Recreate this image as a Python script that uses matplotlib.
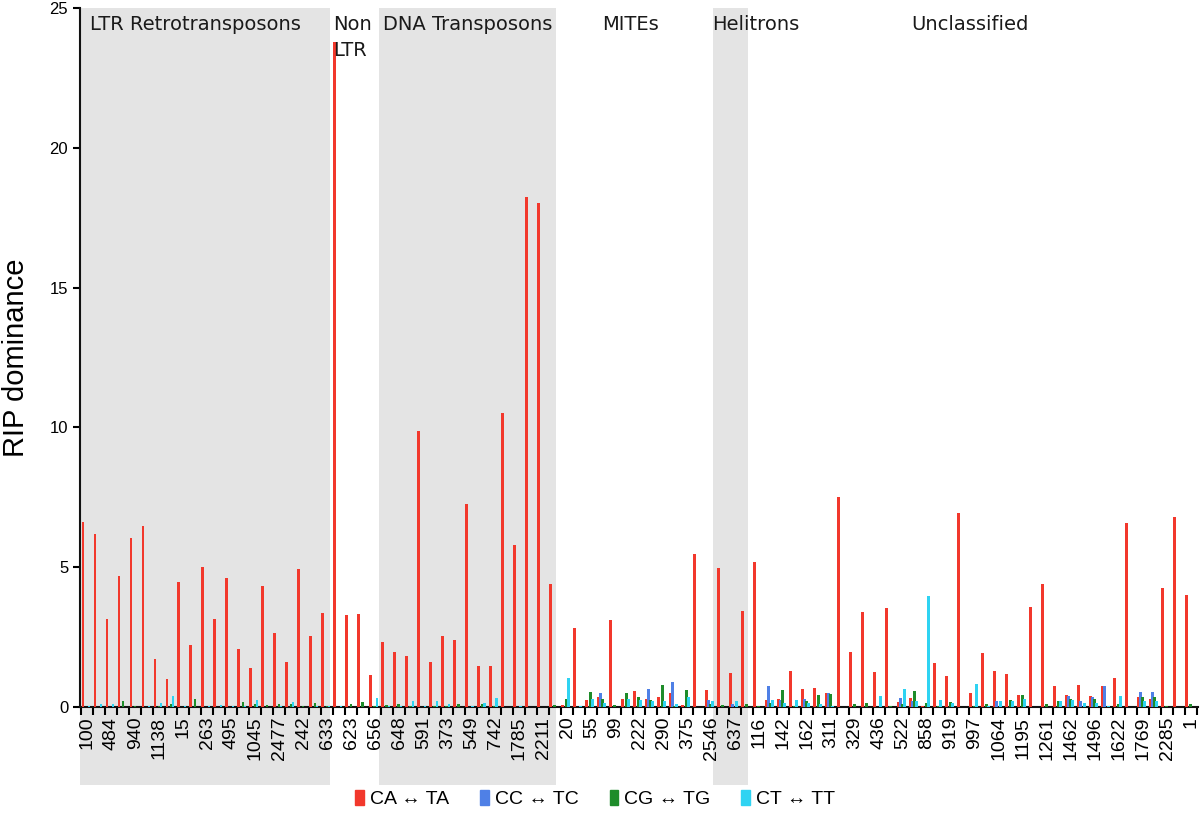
import numpy as np
import matplotlib
matplotlib.use("Agg")
import matplotlib.pyplot as plt
from matplotlib.patches import Rectangle, Patch
from matplotlib.transforms import blended_transform_factory

plt.rcParams['font.family'] = ['Liberation Sans', 'DejaVu Sans']

# tick labels shown on every other element (positions 0, 2, 4, ...)
labels = ["100", "484", "940", "1138", "15", "263", "495", "1045", "2477", "242",
          "633", "623", "656", "648", "591", "373", "549", "742", "1785", "2211",
          "20", "55", "99", "222", "290", "375", "2546", "637", "116", "142",
          "162", "311", "329", "436", "522", "858", "919", "997", "1064", "1195",
          "1261", "1462", "1496", "1622", "1769", "2285", "1"]

# CA <-> TA
ca_ta = [6.62, 6.2, 3.15, 4.68, 6.06, 6.48, 1.72, 1.0, 4.48, 2.22,
         5.0, 3.13, 4.6, 2.08, 1.38, 4.32, 2.66, 1.62, 4.93, 2.52,
         3.35, 23.78, 3.28, 3.33, 1.15, 2.33, 1.97, 1.82, 9.86, 1.62,
         2.53, 2.4, 7.27, 1.45, 1.45, 10.5, 5.78, 18.25, 18.02, 4.38,
         0.08, 2.82, 0.24, 0.37, 3.1, 0.27, 0.58, 0.27, 0.35, 0.5,
         0.08, 5.46, 0.6, 4.96, 1.22, 3.42, 5.18, 0.25, 0.3, 1.27,
         0.63, 0.68, 0.51, 7.5, 1.98, 3.4, 1.26, 3.53, 0.19, 0.33,
         0.02, 1.58, 1.1, 6.92, 0.51, 1.94, 1.3, 1.18, 0.43, 3.56,
         4.4, 0.75, 0.43, 0.79, 0.4, 0.76, 1.05, 6.57, 0.35, 0.27,
         4.25, 6.8, 4.0]
# CC <-> TC
cc_tc = [0, 0, 0, 0, 0, 0, 0, 0, 0, 0,
         0, 0, 0, 0, 0, 0, 0, 0, 0, 0,
         0, 0, 0, 0, 0, 0, 0, 0, 0, 0,
         0, 0, 0, 0, 0, 0, 0, 0, 0, 0,
         0, 0, 0, 0.5, 0, 0, 0, 0.64, 0, 0.9,
         0, 0, 0.25, 0, 0.1, 0, 0, 0.75, 0.25, 0,
         0.3, 0, 0.5, 0, 0, 0, 0, 0, 0.33, 0.2,
         0, 0, 0, 0, 0, 0, 0.23, 0, 0, 0,
         0, 0, 0.39, 0.2, 0.35, 0.76, 0, 0, 0.55, 0.55,
         0, 0, 0]
# CG <-> TG
cg_tg = [0, 0, 0, 0.2, 0.05, 0, 0.05, 0.12, 0, 0.3,
         0, 0, 0, 0.18, 0.1, 0.08, 0.12, 0.12, 0.05, 0.15,
         0.03, 0, 0.12, 0.18, 0.05, 0.08, 0.1, 0.03, 0, 0.05,
         0.03, 0.12, 0, 0.1, 0.03, 0, 0, 0, 0, 0.08,
         0.3, 0, 0.53, 0.3, 0.08, 0.5, 0.35, 0.25, 0.77, 0.05,
         0.6, 0, 0.1, 0.08, 0, 0.1, 0.05, 0.15, 0.6, 0.05,
         0.2, 0.43, 0.46, 0, 0.12, 0.15, 0, 0.05, 0.1, 0.57,
         0.15, 0.05, 0.18, 0, 0.05, 0.1, 0, 0.25, 0.43, 0,
         0.12, 0.2, 0.3, 0, 0.3, 0, 0.1, 0, 0.35, 0.35,
         0.05, 0, 0.1]
# CT <-> TT
ct_tt = [0.02, 0.1, 0.1, 0, 0, 0.03, 0.15, 0.4, 0.05, 0,
         0.05, 0.08, 0.03, 0.05, 0.25, 0, 0.05, 0.17, 0, 0.03,
         0.05, 0.03, 0, 0, 0.32, 0.03, 0.05, 0.2, 0.03, 0.2,
         0.12, 0, 0.03, 0.15, 0.32, 0, 0.05, 0, 0, 0,
         1.05, 0.03, 0.3, 0.15, 0, 0.3, 0.25, 0.2, 0.2, 0.1,
         0.37, 0, 0.22, 0, 0.2, 0, 0, 0.25, 0.15, 0.25,
         0.15, 0.1, 0.03, 0, 0, 0, 0.39, 0, 0.63, 0.2,
         3.98, 0.25, 0.15, 0, 0.81, 0.05, 0.2, 0.22, 0.3, 0,
         0, 0.2, 0.25, 0.15, 0.15, 0.05, 0.39, 0, 0.2, 0.2,
         0, 0, 0]

series = [("CA \u2194 TA", ca_ta, "#f2382c"),
          ("CC \u2194 TC", cc_tc, "#4f80e6"),
          ("CG \u2194 TG", cg_tg, "#1e8c2a"),
          ("CT \u2194 TT", ct_tt, "#2fd3f2")]

# family name, first and last element (shaded or not)
groups = [("LTR Retrotransposons", 0, 20, True),
          ("Non\nLTR", 21, 24, False),
          ("DNA Transposons", 25, 39, True),
          ("MITEs", 40, 52, False),
          ("Helitrons", 53, 55, True),
          ("Unclassified", 56, 92, False)]

n = len(ca_ta)
x = np.arange(n)

fig = plt.figure(figsize=(12, 8.19), dpi=100)
ax = fig.add_axes([0.0667, 0.1368, 0.9313, 0.8535])
ax.set_facecolor("none")

w = 0.21
offsets = [-0.39, -0.22, -0.05, 0.12]
for (name, vals, col), off in zip(series, offsets):
    ax.bar(x + off, vals, width=w, color=col, zorder=3, linewidth=0)

ax.set_xlim(-0.62, n - 0.45)
ax.set_ylim(0, 25)

# grey background bands for some families, running down behind the labels
trans = blended_transform_factory(ax.transData, fig.transFigure)
spans = {"LTR Retrotransposons": (-0.64, 20.19),
         "DNA Transposons": (24.27, 39.1),
         "Helitrons": (52.19, 55.1)}
for name, a, b, shade in groups:
    if shade:
        x0, x1 = spans[name]
        ax.add_patch(Rectangle((x0, 0.0415), x1 - x0, 0.99 - 0.0415,
                               transform=trans, facecolor="#e4e4e4",
                               edgecolor="none", clip_on=False, zorder=0))

text_x = {"LTR Retrotransposons": 0.19, "Non\nLTR": 20.5, "DNA Transposons": 24.6,
          "MITEs": 42.9, "Helitrons": 52.1, "Unclassified": 68.7}
for name, a, b, shade in groups:
    ax.text(text_x[name], 0.99, name, transform=ax.get_xaxis_transform(),
            ha="left", va="top", fontsize=14, family="DejaVu Sans",
            color="#1a1a1a", linespacing=1.45, zorder=4)

ax.set_xticks(np.arange(0, n, 2))
ax.set_xticklabels(labels, rotation=90, fontsize=14)
ax.set_xticks(np.arange(n + 1) - 0.5, minor=True)
ax.tick_params(axis="x", which="major", length=0, pad=7)
ax.tick_params(axis="x", which="minor", length=6, width=1.5, direction="out")

ax.set_yticks([0, 5, 10, 15, 20, 25])
ax.tick_params(axis="y", length=5, width=1.5, labelsize=12, direction="out")
ax.set_ylabel("RIP dominance", fontsize=21, labelpad=14)

for s in ["top", "right"]:
    ax.spines[s].set_visible(False)
for s in ["left", "bottom"]:
    ax.spines[s].set_linewidth(1.5)
    ax.spines[s].set_color("#111111")

handles = [Patch(color=col, label=name) for name, vals, col in series]
fig.legend(handles=handles, loc="center", bbox_to_anchor=(0.496, 0.024), ncol=4,
           frameon=False, fontsize=14, handlelength=0.45, handleheight=0.75,
           handletextpad=0.3, columnspacing=1.6)

fig.savefig("out.png", dpi=100)
